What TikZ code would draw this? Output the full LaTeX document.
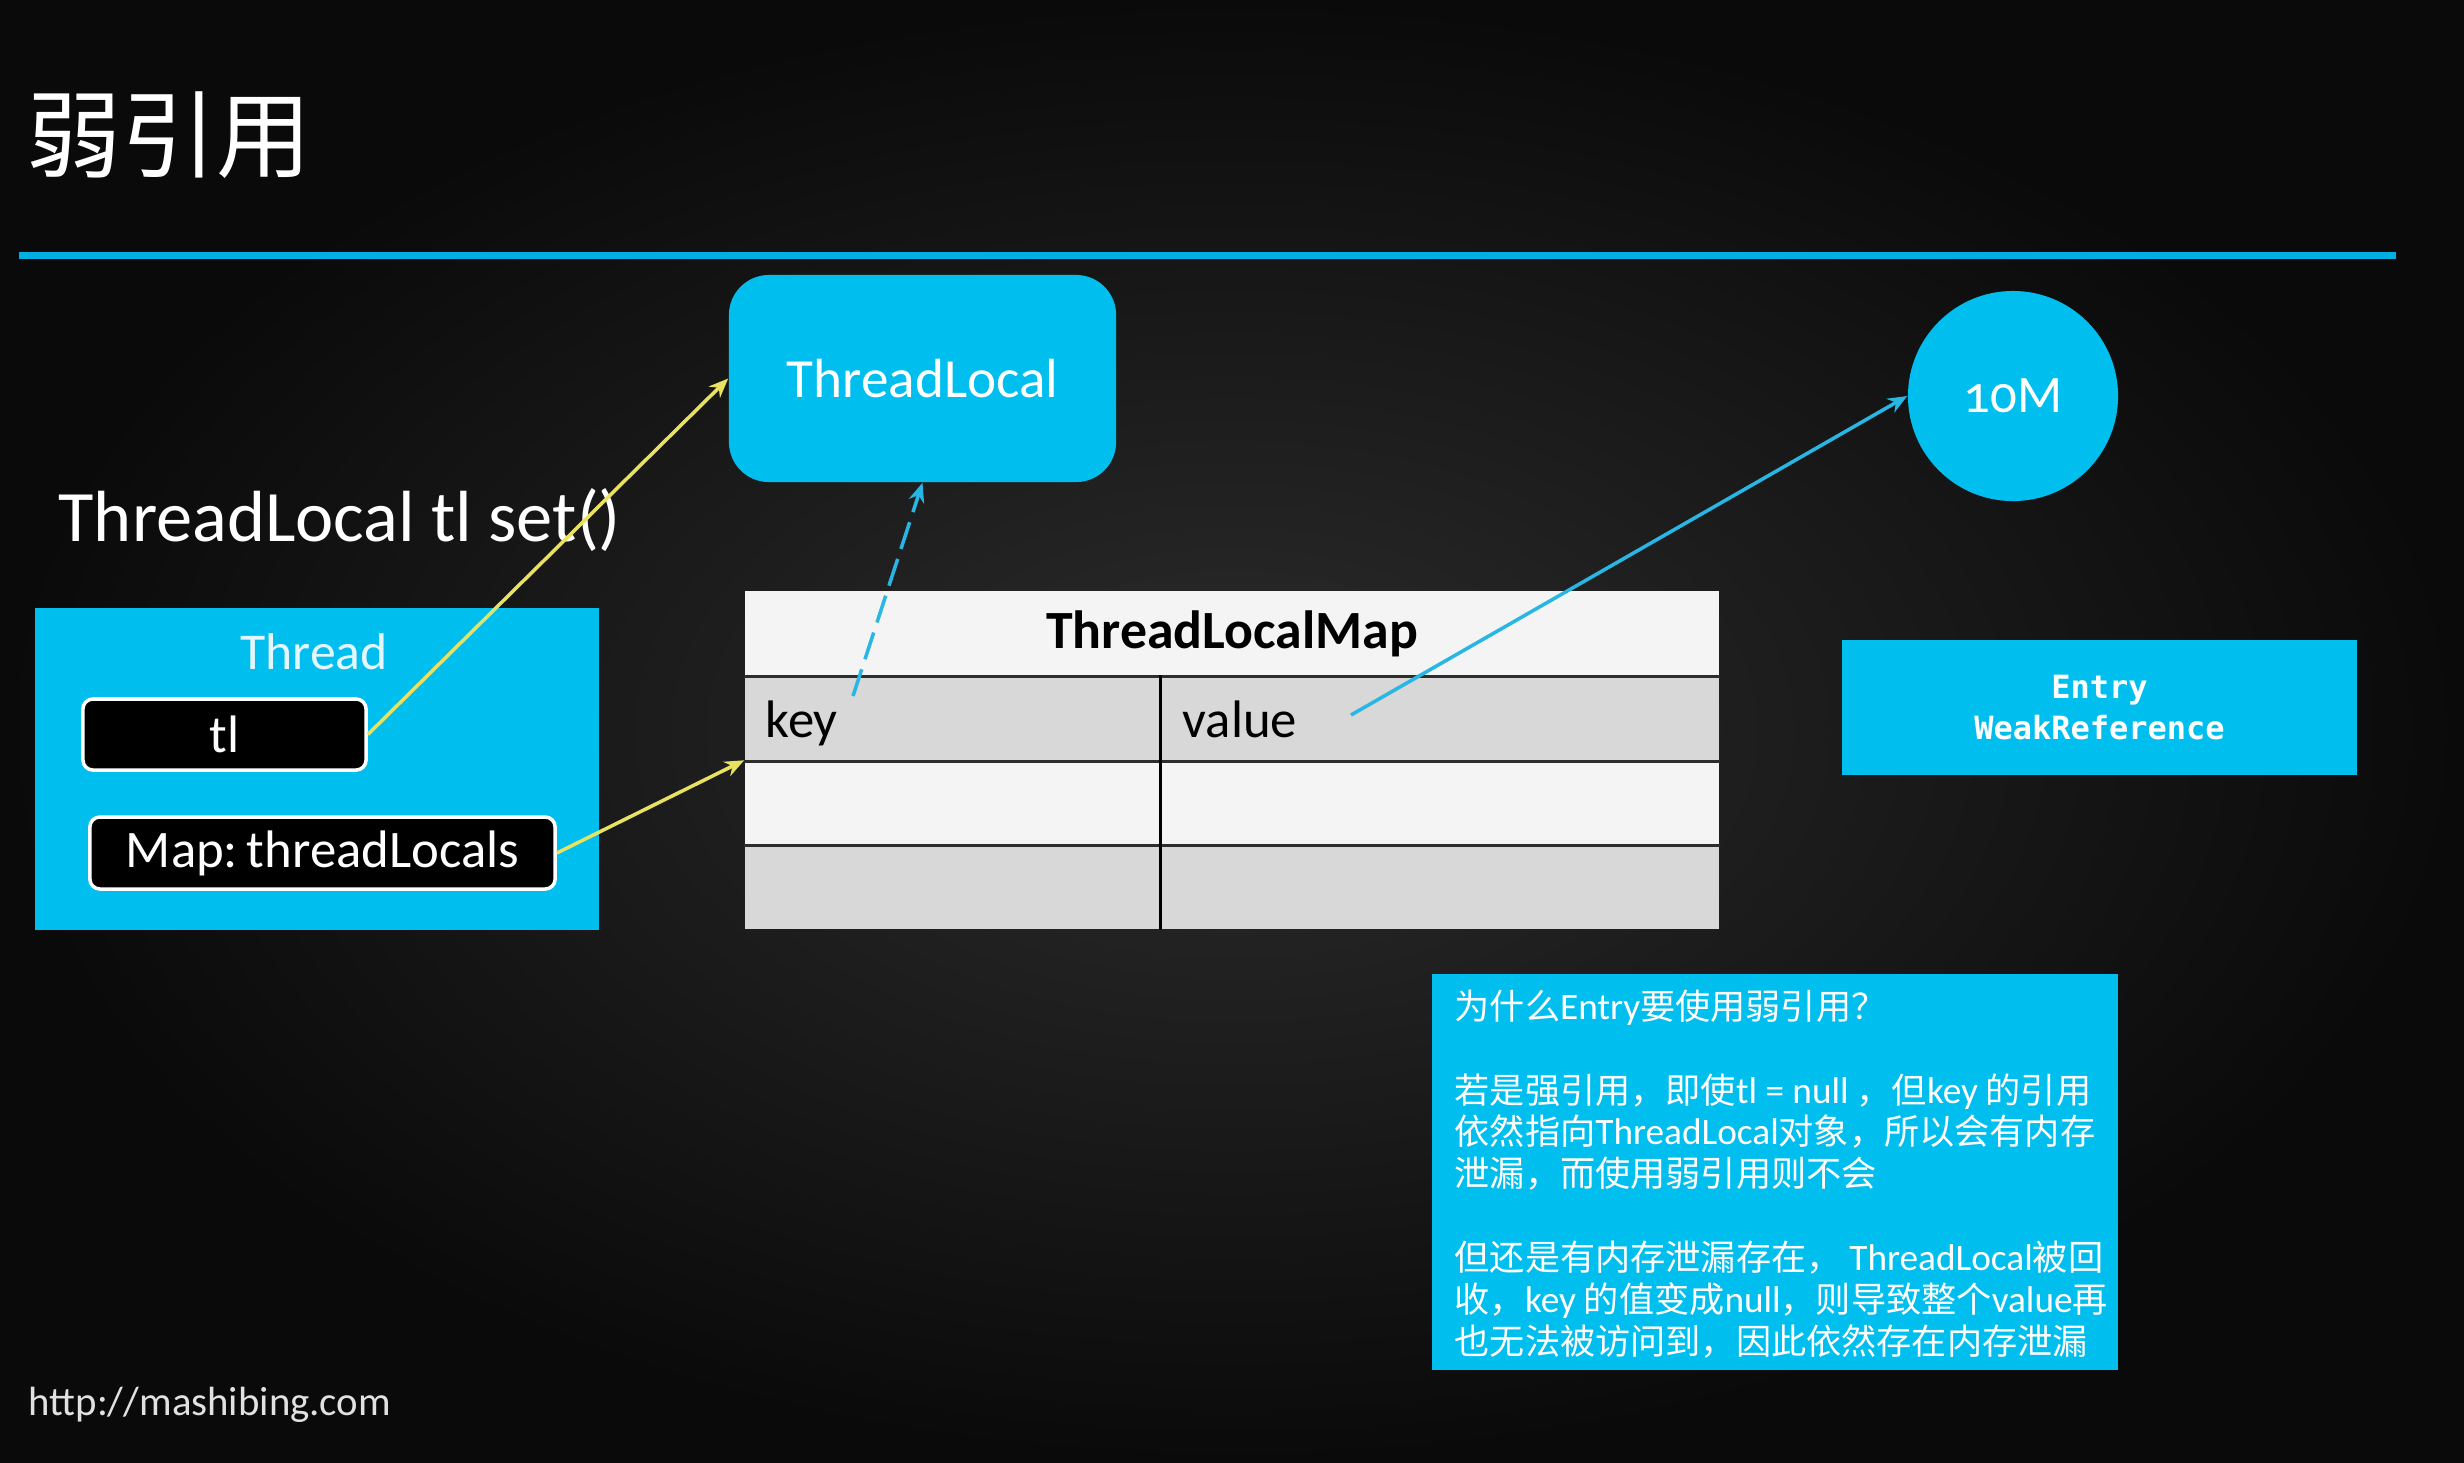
\documentclass[tikz,border=0pt]{standalone}
\usepackage{fontspec}
\setmainfont{Carlito}
\newfontfamily\cjk{Noto Sans CJK SC}
\newfontfamily\monob{DejaVu Sans Mono}
\newcommand\latn[1]{{\rmfamily\fontsize{10.6}{11.9}\selectfont #1}}
\usetikzlibrary{arrows.meta}
\definecolor{tcyan}{RGB}{0,190,238}
\definecolor{lcyan}{RGB}{0,176,228}
\definecolor{ayellow}{RGB}{232,226,96}
\definecolor{acyan}{RGB}{40,182,228}
\definecolor{cellw}{RGB}{244,244,244}
\definecolor{cellg}{RGB}{216,216,216}
\definecolor{tline}{RGB}{45,45,45}
\definecolor{softw}{RGB}{228,246,255}
\begin{document}
\begin{tikzpicture}[x=0.01cm,y=-0.01cm,
  cyanbox/.style={fill=tcyan, draw=none, inner sep=0pt},
  pill/.style={fill=black, draw=white, line width=1pt, rounded corners=0.1cm, text=white, inner sep=0pt, font=\fontsize{15}{18}\selectfont},
  cell/.style={draw=none, inner sep=0pt, minimum height=0.85cm},
  tablab/.style={anchor=base west, inner sep=0pt, text=black, font=\fontsize{15}{18}\selectfont},
  gridline/.style={draw=tline, line width=0.9pt},
  arr/.style={-{Stealth[length=5.5pt,width=4.5pt]}, line width=1pt},
]
\useasboundingbox (0,0) rectangle (2464,1462);
\shade[inner color={rgb,255:red,44;green,44;blue,44}, outer color={rgb,255:red,10;green,10;blue,10}] (0,0) rectangle (2464,1462);

% title and rule
\node[anchor=west, text=white, inner sep=0pt, font=\cjk\fontsize{27}{30}\selectfont] (title) at (26,135) {弱引用};
\coordinate (ruleL) at (19,255);
\coordinate (ruleR) at (2396,255);
\draw[lcyan, line width=2pt] (ruleL) -- (ruleR);

% ThreadLocal object
\node[cyanbox, rounded corners=0.4cm, minimum width=3.87cm, minimum height=2.07cm, text=white, font=\fontsize{15.7}{18}\selectfont] (TL) at (922.5,378.5) {ThreadLocal};

% code line
\node[anchor=base west, text=white, inner sep=0pt, font=\fontsize{20.6}{24}\selectfont] (setl) at (58,541) {ThreadLocal tl set()};

% Thread
\node[cyanbox, minimum width=5.64cm, minimum height=3.22cm] (thread) at (317,769) {};
\node[text=softw, inner sep=0pt, font=\fontsize{14.7}{17}\selectfont] (threadlbl) at (314,652) {Thread};
\node[pill, minimum width=2.83cm, minimum height=0.71cm] (tl) at (224.5,734.5) {tl};
\node[pill, minimum width=4.65cm, minimum height=0.72cm] (map) at (322.5,853) {Map:\,threadLocals};

% ThreadLocalMap table
\node[cell, fill=cellw, minimum width=9.74cm, font=\bfseries\fontsize{15.3}{18}\selectfont] (hdr) at (1232,633.5) {ThreadLocalMap};
\node[cell, fill=cellg, minimum width=4.15cm] (r1k) at (952.5,718.5) {};
\node[cell, fill=cellg, minimum width=5.59cm] (r1v) at (1439.5,718.5) {};
\node[cell, fill=cellw, minimum width=4.15cm, minimum height=0.84cm] (r2k) at (952.5,803) {};
\node[cell, fill=cellw, minimum width=5.59cm, minimum height=0.84cm] (r2v) at (1439.5,803) {};
\node[cell, fill=cellg, minimum width=4.15cm, minimum height=0.84cm] (r3k) at (952.5,887) {};
\node[cell, fill=cellg, minimum width=5.59cm, minimum height=0.84cm] (r3v) at (1439.5,887) {};
\draw[gridline] (hdr.south west) -- (hdr.south east);
\draw[gridline] (r1k.south west) -- (r1v.south east);
\draw[gridline] (r2k.south west) -- (r2v.south east);
\draw[gridline, draw=black] (r1k.north east) -- (r3k.south east);
\node[tablab] (keylbl) at (765,737) {key};
\node[tablab] (vallbl) at (1182,737) {value};

% 10M object
\node[circle, fill=tcyan, minimum size=2.1cm, inner sep=0pt, text=white, font=\fontsize{15}{18}\selectfont] (M) at (2013,396) {\addfontfeatures{Numbers=OldStyle}10M};

% Entry
\node[cyanbox, minimum width=5.15cm, minimum height=1.35cm, text=white, align=center, font=\monob\bfseries\fontsize{9.1}{11.7}\selectfont] (entry) at (2099.5,707.5) {Entry\\WeakReference};

% note
\node[cyanbox, minimum width=6.86cm, minimum height=3.96cm] (note) at (1775,1172) {};
\node[anchor=north west, inner sep=0pt, align=left, text=white, font=\cjk\fontsize{10}{11.9}\selectfont] (notetxt) at (1454,989) {为什么\latn{Entry}要使用弱引用？\\[11.9pt]
若是强引用，即使\latn{tl = null} ，但\latn{key} 的引用\\
依然指向\latn{ThreadLocal}对象，所以会有内存\\
泄漏，而使用弱引用则不会\\[11.9pt]
但还是有内存泄漏存在， \latn{ThreadLocal}被回\\
收，\latn{key} 的值变成\latn{null}，则导致整个\latn{value}再\\
也无法被访问到，因此依然存在内存泄漏};

% url
\node[anchor=west, inner sep=0pt, text={rgb,255:red,225;green,225;blue,225}, font=\fontsize{11.6}{14}\selectfont] (url) at (28,1405) {http://mashibing.com};

% connectors
\coordinate (keyp) at (853,696);
\coordinate (valp) at (1351,715);
\draw[arr, ayellow] (tl.east) -- (TL.west);
\draw[arr, ayellow] (map.east) -- (r2k.north west);
\draw[arr, acyan, dash pattern=on 8pt off 3pt] (keyp) -- (TL.south);
\draw[arr, acyan] (valp) -- (M.west);
\end{tikzpicture}
\end{document}
